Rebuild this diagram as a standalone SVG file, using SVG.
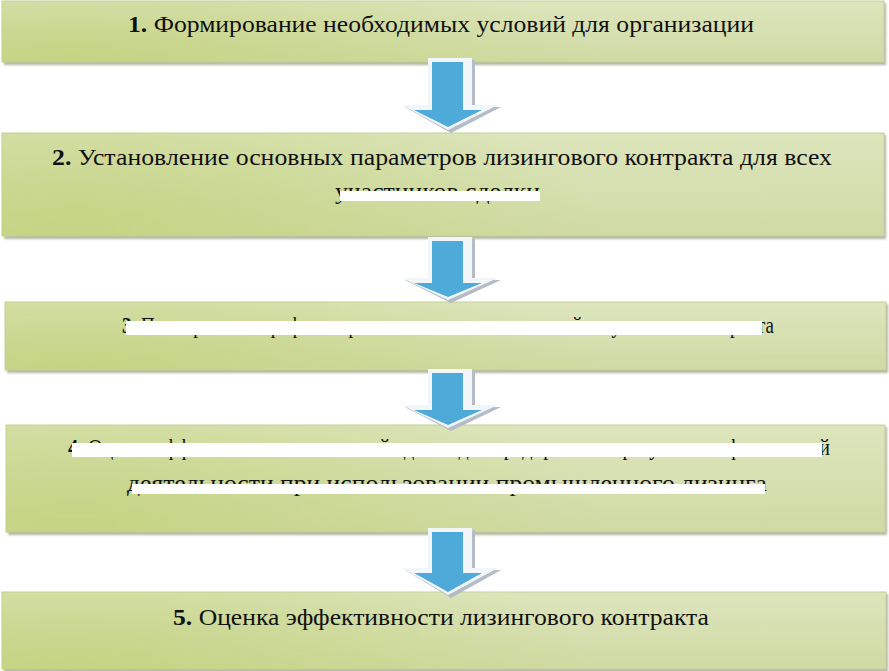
<svg xmlns="http://www.w3.org/2000/svg" width="889" height="671" viewBox="0 0 889 671">
  <defs>
    <linearGradient id="boxFill" x1="0" y1="0" x2="0" y2="1">
      <stop offset="0" stop-color="#dde5bc"/>
      <stop offset="0.55" stop-color="#d6dfb0"/>
      <stop offset="1" stop-color="#d0daa3"/>
    </linearGradient>
    <radialGradient id="glow" cx="0.08" cy="1" r="0.6" gradientTransform="translate(0.08 1) scale(1 3) translate(-0.08 -1)">
      <stop offset="0" stop-color="#c4d37f" stop-opacity="0.9"/>
      <stop offset="1" stop-color="#c4d37f" stop-opacity="0"/>
    </radialGradient>
    <filter id="shadow" x="-5%" y="-20%" width="110%" height="140%">
      <feGaussianBlur stdDeviation="1.3"/>
    </filter>
  </defs>
  <style>
    .sh { fill: #80866b; opacity: 0.6; filter: url(#shadow); }
    .box { fill: url(#boxFill); stroke: #c6d09a; stroke-width: 1; }
    .glow { fill: url(#glow); }
    .t { font-family: "Liberation Serif", "Times New Roman", "DejaVu Serif", serif; font-size: 23px; fill: #111111; }
    .b { font-weight: bold; }
    .bar { fill: #ffffff; }
    .aout { fill: #f3f6f9; }
    .ash { fill: #b4bcc7; }
    .ain { fill: #4eaad8; }
  </style>
  <rect width="889" height="671" fill="#ffffff"/>

  <g id="node1">
    <rect class="sh" x="4" y="3" width="882" height="62"/>
    <rect class="box" x="2" y="1" width="882" height="61"/>
    <rect class="glow" x="2" y="1" width="882" height="61"/>
    <text class="t" x="128" y="32" textLength="626" lengthAdjust="spacingAndGlyphs"><tspan class="b">1.</tspan> Формирование необходимых условий для организации</text>
  </g>

  <g id="node2">
    <rect class="sh" x="4" y="135" width="882" height="104"/>
    <rect class="box" x="2" y="133" width="882" height="103"/>
    <rect class="glow" x="2" y="133" width="882" height="103"/>
    <text class="t" x="52" y="165" textLength="780" lengthAdjust="spacingAndGlyphs"><tspan class="b">2.</tspan> Установление основных параметров лизингового контракта для всех</text>
    <text class="t" x="335" y="199" textLength="205" lengthAdjust="spacingAndGlyphs">участников сделки</text>
    <rect class="bar" x="340" y="191" width="200" height="10"/>
  </g>

  <g id="node3">
    <rect class="sh" x="7" y="304" width="881" height="69"/>
    <rect class="box" x="5" y="302" width="881" height="68"/>
    <rect class="glow" x="5" y="302" width="881" height="68"/>
    <text class="t" x="122" y="333" textLength="652" lengthAdjust="spacingAndGlyphs"><tspan class="b">3.</tspan> Планирование графика и расчет лизинговых платежей по условиям контракта</text>
    <rect class="bar" x="126" y="321" width="636" height="14"/>
  </g>

  <g id="node4">
    <rect class="sh" x="8" y="427" width="879" height="108"/>
    <rect class="box" x="6" y="425" width="879" height="107"/>
    <rect class="glow" x="6" y="425" width="879" height="107"/>
    <text class="t" x="68" y="455" textLength="762" lengthAdjust="spacingAndGlyphs"><tspan class="b">4.</tspan> Оценка эффективности лизинговой сделки для предприятия и результатов финансовой</text>
    <rect class="bar" x="72" y="443" width="750" height="14"/>
    <text class="t" x="127" y="491" textLength="640" lengthAdjust="spacingAndGlyphs">деятельности при использовании промышленного лизинга</text>
    <rect class="bar" x="132" y="484" width="633" height="10"/>
  </g>

  <g id="node5">
    <rect class="sh" x="4" y="594" width="884" height="78"/>
    <rect class="box" x="2" y="592" width="884" height="77"/>
    <rect class="glow" x="2" y="592" width="884" height="77"/>
    <text class="t" x="173" y="625" textLength="536" lengthAdjust="spacingAndGlyphs"><tspan class="b">5.</tspan> Оценка эффективности лизингового контракта</text>
  </g>

  <g id="connectors">
    <g id="arrow1">
      <polygon class="ash" points="431,60 475,60 475,107 501,107 451,133 405,107 431,107"/>
      <polygon class="aout" points="428,58 472,58 472,105 498,105 448,130 402,105 428,105"/>
      <polygon class="ain" points="432,62 463,62 463,110 482,110 448,127 414,110 432,110"/>
    </g>
    <g id="arrow2">
      <polygon class="ash" points="431,239 475,239 475,280 501,280 451,303 405,280 431,280"/>
      <polygon class="aout" points="428,237 472,237 472,278 498,278 448,300 402,278 428,278"/>
      <polygon class="ain" points="432,241 463,241 463,283 482,283 448,297 414,283 432,283"/>
    </g>
    <g id="arrow3">
      <polygon class="ash" points="431,371 475,371 475,407 501,407 451,431 405,407 431,407"/>
      <polygon class="aout" points="428,369 472,369 472,405 498,405 448,428 402,405 428,405"/>
      <polygon class="ain" points="432,373 463,373 463,410 482,410 448,425 414,410 432,410"/>
    </g>
    <g id="arrow4">
      <polygon class="ash" points="431,530 475,530 475,570 501,570 451,598 405,570 431,570"/>
      <polygon class="aout" points="428,528 472,528 472,568 498,568 448,595 402,568 428,568"/>
      <polygon class="ain" points="432,532 463,532 463,573 482,573 448,592 414,573 432,573"/>
    </g>
  </g>
</svg>
